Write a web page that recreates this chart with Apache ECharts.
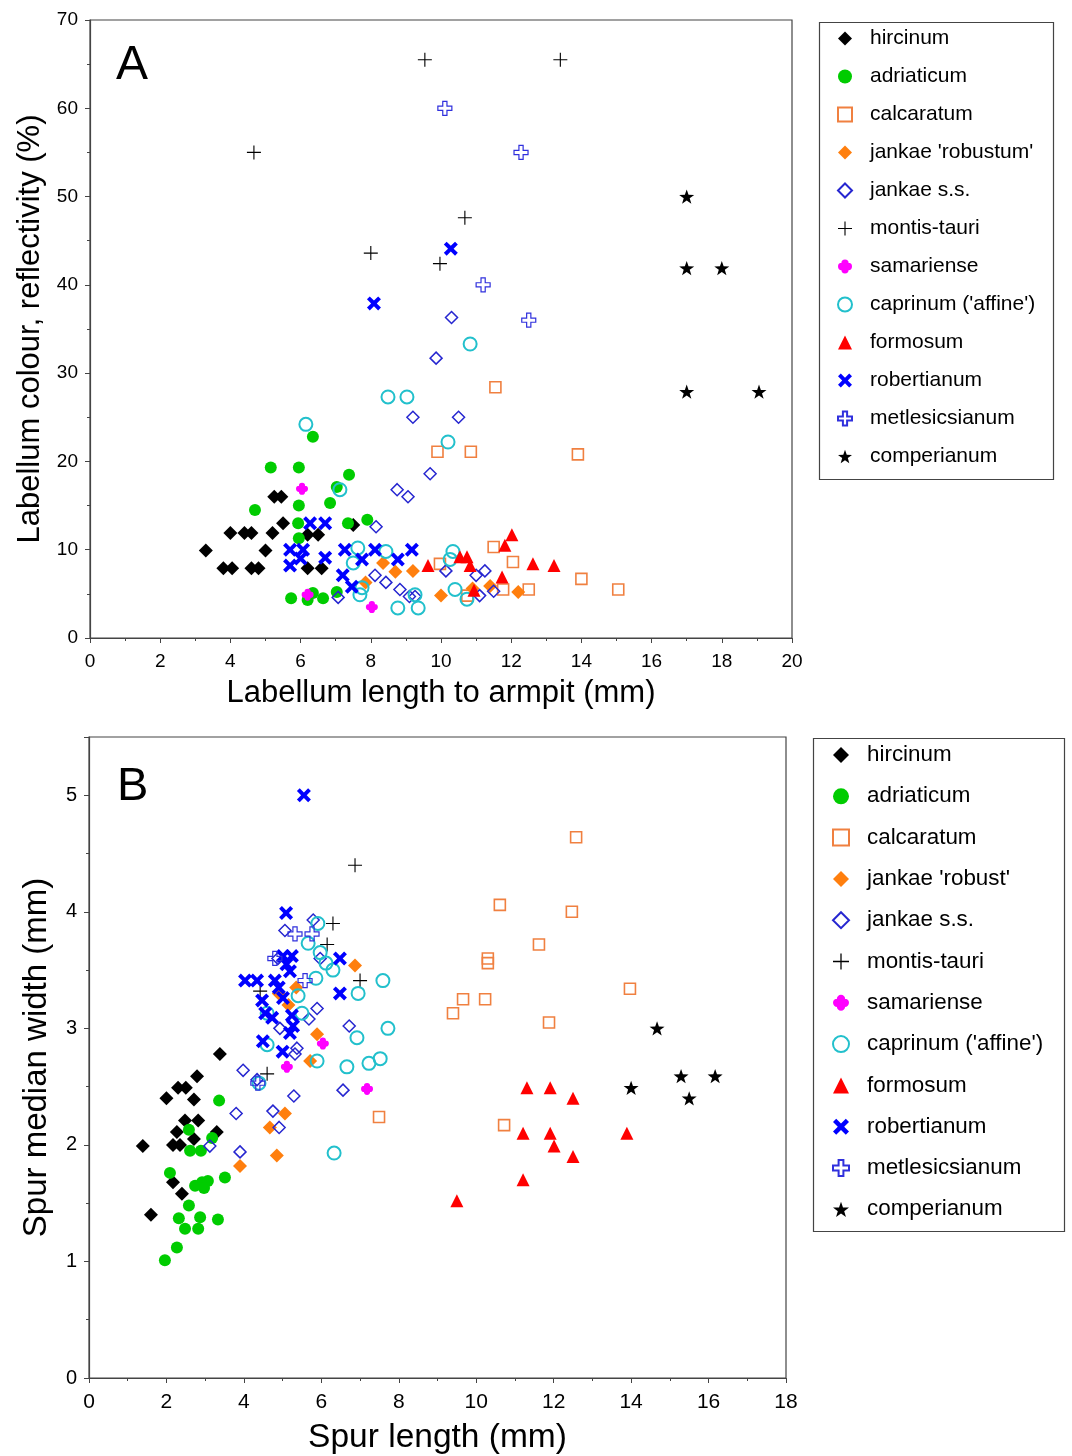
<!DOCTYPE html>
<html><head><meta charset="utf-8">
<script src="https://cdn.jsdelivr.net/npm/echarts@6/dist/echarts.min.js"></script>
<style>html,body{margin:0;padding:0;background:#fff}#c{width:1072px;height:1456px}</style>
</head><body><div id="c"></div>
<script>
// ---------- Panel A data: [labellum length (mm), reflectivity (%)] ----------
const speciesA = ["hircinum","adriaticum","calcaratum","jankae 'robustum'","jankae s.s.","montis-tauri","samariense","caprinum ('affine')","formosum","robertianum","metlesicsianum","comperianum"];
const A_hircinum = [[3.3,9.9],[3.8,7.9],[4.05,7.9],[4.0,11.9],[4.4,11.9],[4.6,11.9],[4.6,7.9],[4.8,7.9],[5.0,9.9],[5.2,11.9],[5.25,16.0],[5.45,16.0],[5.5,13.0],[6.2,11.7],[6.5,11.7],[6.2,7.9],[6.6,7.9],[7.5,12.8]];
const A_adriaticum = [[4.7,14.5],[5.15,19.3],[5.95,19.3],[5.95,15.0],[5.93,13.0],[5.95,11.3],[5.73,4.5],[6.2,4.3],[6.35,5.1],[6.64,4.5],[6.35,22.8],[6.84,15.3],[7.03,17.1],[7.03,5.2],[7.35,13.0],[7.38,18.5],[7.9,13.4]];
const A_calcaratum = [[9.9,21.1],[10.85,21.1],[13.9,20.8],[11.55,28.4],[11.5,10.3],[12.05,8.6],[9.97,8.4],[14.0,6.7],[15.05,5.5],[12.5,5.5],[11.77,5.5],[10.75,4.8]];
const A_jankaeRobustum = [[7.85,6.3],[8.35,8.5],[8.7,7.5],[9.2,7.6],[10.0,4.8],[10.9,5.6],[11.4,5.9],[12.2,5.2]];
const A_jankaeSS = [[10.3,36.3],[9.86,31.7],[9.2,25.0],[10.5,25.0],[9.69,18.6],[8.75,16.8],[9.06,16.0],[8.15,12.6],[8.12,7.1],[8.43,6.3],[8.83,5.5],[9.1,4.7],[9.26,4.7],[7.07,4.6],[10.14,7.6],[11.0,7.1],[11.25,7.6],[11.1,4.8],[11.5,5.3]];
const A_montisTauri = [[9.54,65.5],[13.4,65.5],[4.67,55.0],[10.68,47.6],[8.0,43.6],[9.97,42.4]];
const A_samariense = [[6.04,16.9],[6.2,4.9],[8.03,3.5]];
const A_caprinum = [[6.15,24.2],[7.12,16.8],[7.63,10.2],[7.5,8.5],[8.43,9.8],[7.75,5.7],[7.69,4.9],[8.77,3.4],[9.35,3.4],[9.26,4.9],[8.49,27.3],[9.03,27.3],[10.2,22.2],[10.83,33.3],[10.34,9.8],[10.26,8.9],[10.4,5.5],[10.74,4.4]];
const A_formosum = [[9.63,8.2],[10.54,9.2],[10.74,9.2],[10.83,8.2],[10.94,5.4],[11.74,6.9],[11.82,10.5],[12.02,11.7],[12.62,8.4],[13.22,8.2]];
const A_robertianum = [[10.28,44.1],[8.09,37.9],[6.27,13.0],[6.7,13.0],[5.7,10.0],[6.07,10.0],[5.7,8.2],[6.0,9.0],[6.7,9.1],[7.26,10.0],[7.75,8.9],[8.12,10.0],[8.77,8.9],[9.17,10.0],[7.2,7.1],[7.46,5.8]];
const A_metlesicsianum = [[10.11,60.0],[12.28,55.0],[11.2,40.0],[12.5,36.0]];
const A_comperianum = [[17.0,50.0],[17.0,41.9],[18.0,41.9],[17.0,27.9],[19.06,27.9]];

// ---------- Panel B data: [spur length (mm), spur median width (mm)] ----------
const speciesB = ["hircinum","adriaticum","calcaratum","jankae 'robust'","jankae s.s.","montis-tauri","samariense","caprinum ('affine')","formosum","robertianum","metlesicsianum","comperianum"];
const B_hircinum = [[3.38,2.78],[2.79,2.59],[2.3,2.49],[2.5,2.49],[2.0,2.4],[2.71,2.39],[2.48,2.21],[2.82,2.21],[2.27,2.11],[3.3,2.11],[1.39,1.99],[2.17,2.0],[2.35,2.0],[2.71,2.05],[2.17,1.68],[2.4,1.58],[1.6,1.4]];
const B_adriaticum = [[3.36,2.38],[2.58,2.13],[3.18,2.06],[2.61,1.95],[2.89,1.95],[2.09,1.76],[2.74,1.65],[2.92,1.68],[3.07,1.69],[2.97,1.63],[3.51,1.72],[2.58,1.48],[2.32,1.37],[2.87,1.38],[3.33,1.36],[2.48,1.28],[2.82,1.28],[2.27,1.12],[1.96,1.01]];
const B_calcaratum = [[12.58,4.64],[10.61,4.06],[12.47,4.0],[11.62,3.72],[10.3,3.6],[10.3,3.56],[13.97,3.34],[9.66,3.25],[10.23,3.25],[9.4,3.13],[11.88,3.05],[10.72,2.17],[7.49,2.24]];
const B_jankaeRobust = [[6.87,3.54],[4.9,3.3],[5.15,3.2],[5.35,3.35],[5.89,2.95],[5.71,2.72],[5.06,2.27],[4.67,2.15],[4.85,1.91],[3.9,1.82]];
const B_jankaeSS = [[5.06,3.84],[5.79,3.93],[4.88,3.6],[5.97,3.6],[5.89,3.17],[5.68,3.08],[6.72,3.02],[4.93,3.0],[5.37,2.83],[5.32,2.78],[3.98,2.64],[4.34,2.56],[5.29,2.42],[6.56,2.47],[3.8,2.27],[4.75,2.29],[4.91,2.15],[3.12,1.99],[3.9,1.94]];
const B_montisTauri = [[6.87,4.4],[6.3,3.9],[6.15,3.72],[7.0,3.41],[4.42,3.32],[4.6,2.61]];
const B_samariense = [[6.04,2.87],[5.11,2.67],[7.18,2.48]];
const B_caprinum = [[5.91,3.9],[5.66,3.73],[5.97,3.65],[6.12,3.56],[6.3,3.5],[5.86,3.43],[5.4,3.28],[6.95,3.3],[7.59,3.41],[4.6,3.13],[5.5,3.13],[6.92,2.92],[7.72,3.0],[4.6,2.86],[5.89,2.72],[6.66,2.67],[7.23,2.7],[7.52,2.74],[4.39,2.53],[6.33,1.93]];
const B_formosum = [[11.31,2.49],[11.91,2.49],[12.5,2.4],[11.21,2.1],[11.91,2.1],[12.01,1.99],[12.5,1.9],[13.89,2.1],[11.21,1.7],[9.5,1.52]];
const B_robertianum = [[5.55,5.0],[5.09,3.99],[5.01,3.62],[5.24,3.62],[5.19,3.49],[4.03,3.41],[4.34,3.41],[4.8,3.41],[6.48,3.6],[6.48,3.3],[4.47,3.24],[5.01,3.26],[4.55,3.13],[5.24,3.11],[4.73,3.09],[5.27,3.02],[5.19,2.96],[4.49,2.89],[5.0,2.8],[4.9,3.35],[5.1,3.55]];
const B_metlesicsianum = [[5.32,3.81],[5.76,3.81],[5.58,3.41],[4.8,3.6],[4.36,2.53]];
const B_comperianum = [[14.67,3.0],[14.0,2.49],[15.29,2.59],[16.17,2.59],[15.5,2.4]];

const dataA = [A_hircinum,A_adriaticum,A_calcaratum,A_jankaeRobustum,A_jankaeSS,A_montisTauri,A_samariense,A_caprinum,A_formosum,A_robertianum,A_metlesicsianum,A_comperianum];
const dataB = [B_hircinum,B_adriaticum,B_calcaratum,B_jankaeRobust,B_jankaeSS,B_montisTauri,B_samariense,B_caprinum,B_formosum,B_robertianum,B_metlesicsianum,B_comperianum];

// ---------- symbol styles ----------
const PLUS = 'path://M9.2,0h1.6v9.2h9.2v1.6h-9.2v9.2h-1.6v-9.2h-9.2v-1.6h9.2z';
const XS = 'path://M4,0L10,6L16,0L20,4L14,10L20,16L16,20L10,14L4,20L0,16L6,10L0,4Z';
const OPLUS = 'path://M7,0h6v7h7v6h-7v7h-6v-7h-7v-6h7z';
const STAR = 'path://M10,0L12.35,6.76L19.51,6.91L13.8,11.24L15.88,18.09L10,14L4.12,18.09L6.2,11.24L0.49,6.91L7.65,6.76Z';
const LOBE = 'path://M2.4,2.6a2.6,2.6 0 1,0 5.2,0a2.6,2.6 0 1,0 -5.2,0Z M0,5a2.6,2.6 0 1,0 5.2,0a2.6,2.6 0 1,0 -5.2,0Z M4.8,5a2.6,2.6 0 1,0 5.2,0a2.6,2.6 0 1,0 -5.2,0Z M2.4,7.4a2.6,2.6 0 1,0 5.2,0a2.6,2.6 0 1,0 -5.2,0Z';
const NONE = 'rgba(0,0,0,0)';
const styles = [
  {symbol:'diamond', size:14, color:'#000000'},
  {symbol:'circle', size:12, color:'#00cc00'},
  {symbol:'rect', size:11, color:NONE, border:'#f08040', bw:1.6},
  {symbol:'diamond', size:14, color:'#ff7f0e'},
  {symbol:'diamond', size:12, color:NONE, border:'#2626d0', bw:1.5},
  {symbol:PLUS, size:14, color:'#000000'},
  {symbol:LOBE, size:12, color:'#ff00ff'},
  {symbol:'circle', size:13, color:NONE, border:'#22c0cc', bw:2},
  {symbol:'triangle', size:13, color:'#ff0000'},
  {symbol:XS, size:14, color:'#0000ff'},
  {symbol:OPLUS, size:14, color:NONE, border:'#3030dd', bw:1.2},
  {symbol:STAR, size:15, color:'#000000'}
];

function mk(names, datas, idx){
  return names.map((n,i)=>{
    const s = styles[i];
    const it = {color:s.color, opacity:1};
    if (s.border){ it.borderColor = s.border; it.borderWidth = s.bw; }
    return {name:n, type:'scatter', xAxisIndex:idx, yAxisIndex:idx, data:datas[i],
      symbol:s.symbol, symbolSize:s.size, symbolKeepAspect:true, itemStyle:it, silent:true, z:2+i};
  });
}

const FONT = '"Liberation Sans", Arial, Helvetica, sans-serif';
const axisCommon = (fs, margin)=>({
  axisLine:{show:true, onZero:false, lineStyle:{color:'#444', width:1.2}},
  axisTick:{show:true, inside:false, length:5, lineStyle:{color:'#444'}},
  minorTick:{show:true, splitNumber:2, length:3, lineStyle:{color:'#444'}},
  splitLine:{show:false},
  axisLabel:{color:'#000', fontSize:fs, fontFamily:FONT, margin:margin, showMaxLabel:true},
  nameTextStyle:{color:'#000', fontFamily:FONT}
});

const chart = echarts.init(document.getElementById('c'), null, {renderer:'canvas'});
const yB = Object.assign(axisCommon(20, 12), {gridIndex:1, type:'value', min:0, max:5.5, interval:1,
      name:'Spur median width (mm)', nameLocation:'middle', nameGap:36, nameRotate:90,
      nameTextStyle:{color:'#000', fontFamily:FONT, fontSize:33}});
yB.axisLabel.showMaxLabel = false;
chart.setOption({
  animation:false,
  backgroundColor:'#fff',
  textStyle:{fontFamily:FONT},
  grid:[
    {left:90, top:20, width:702, height:618, show:true, borderColor:'#444', borderWidth:1.2, backgroundColor:'transparent'},
    {left:89, top:737, width:697, height:641, show:true, borderColor:'#444', borderWidth:1.2, backgroundColor:'transparent'}
  ],
  xAxis:[
    Object.assign(axisCommon(19, 14), {gridIndex:0, type:'value', min:0, max:20, interval:2,
      name:'Labellum length to armpit (mm)', nameLocation:'middle', nameGap:40,
      nameTextStyle:{color:'#000', fontFamily:FONT, fontSize:31}}),
    Object.assign(axisCommon(21, 14), {gridIndex:1, type:'value', min:0, max:18, interval:2,
      name:'Spur length (mm)', nameLocation:'middle', nameGap:43,
      nameTextStyle:{color:'#000', fontFamily:FONT, fontSize:33.5}})
  ],
  yAxis:[
    Object.assign(axisCommon(19, 12), {gridIndex:0, type:'value', min:0, max:70, interval:10,
      name:'Labellum colour, reflectivity (%)', nameLocation:'middle', nameGap:44, nameRotate:90,
      nameTextStyle:{color:'#000', fontFamily:FONT, fontSize:31}}),
    yB
  ],
  legend:[
    {data:speciesA, orient:'vertical', left:837, top:28, padding:0, itemWidth:14, itemHeight:14, itemGap:17,
     selectedMode:false, textStyle:{fontSize:21, color:'#000', fontFamily:FONT, padding:[0,0,0,13]}},
    {data:speciesB, orient:'vertical', left:832, top:744, padding:0, itemWidth:16, itemHeight:16, itemGap:19.3,
     selectedMode:false, textStyle:{fontSize:22.4, color:'#000', fontFamily:FONT, padding:[0,0,0,13]}}
  ],
  graphic:[
    {type:'rect', left:817, top:20, shape:{width:234, height:457}, style:{fill:'none', stroke:'#444', lineWidth:1.2}, z:-1},
    {type:'rect', left:811, top:736, shape:{width:251, height:493}, style:{fill:'none', stroke:'#444', lineWidth:1.2}, z:-1},
    {type:'text', left:116, top:42, style:{text:'A', fontSize:48, fontFamily:FONT, fill:'#000'}},
    {type:'text', left:117, top:764, style:{text:'B', fontSize:47, fontFamily:FONT, fill:'#000'}}
  ],
  series: mk(speciesA, dataA, 0).concat(mk(speciesB, dataB, 1))
});
</script></body></html>
